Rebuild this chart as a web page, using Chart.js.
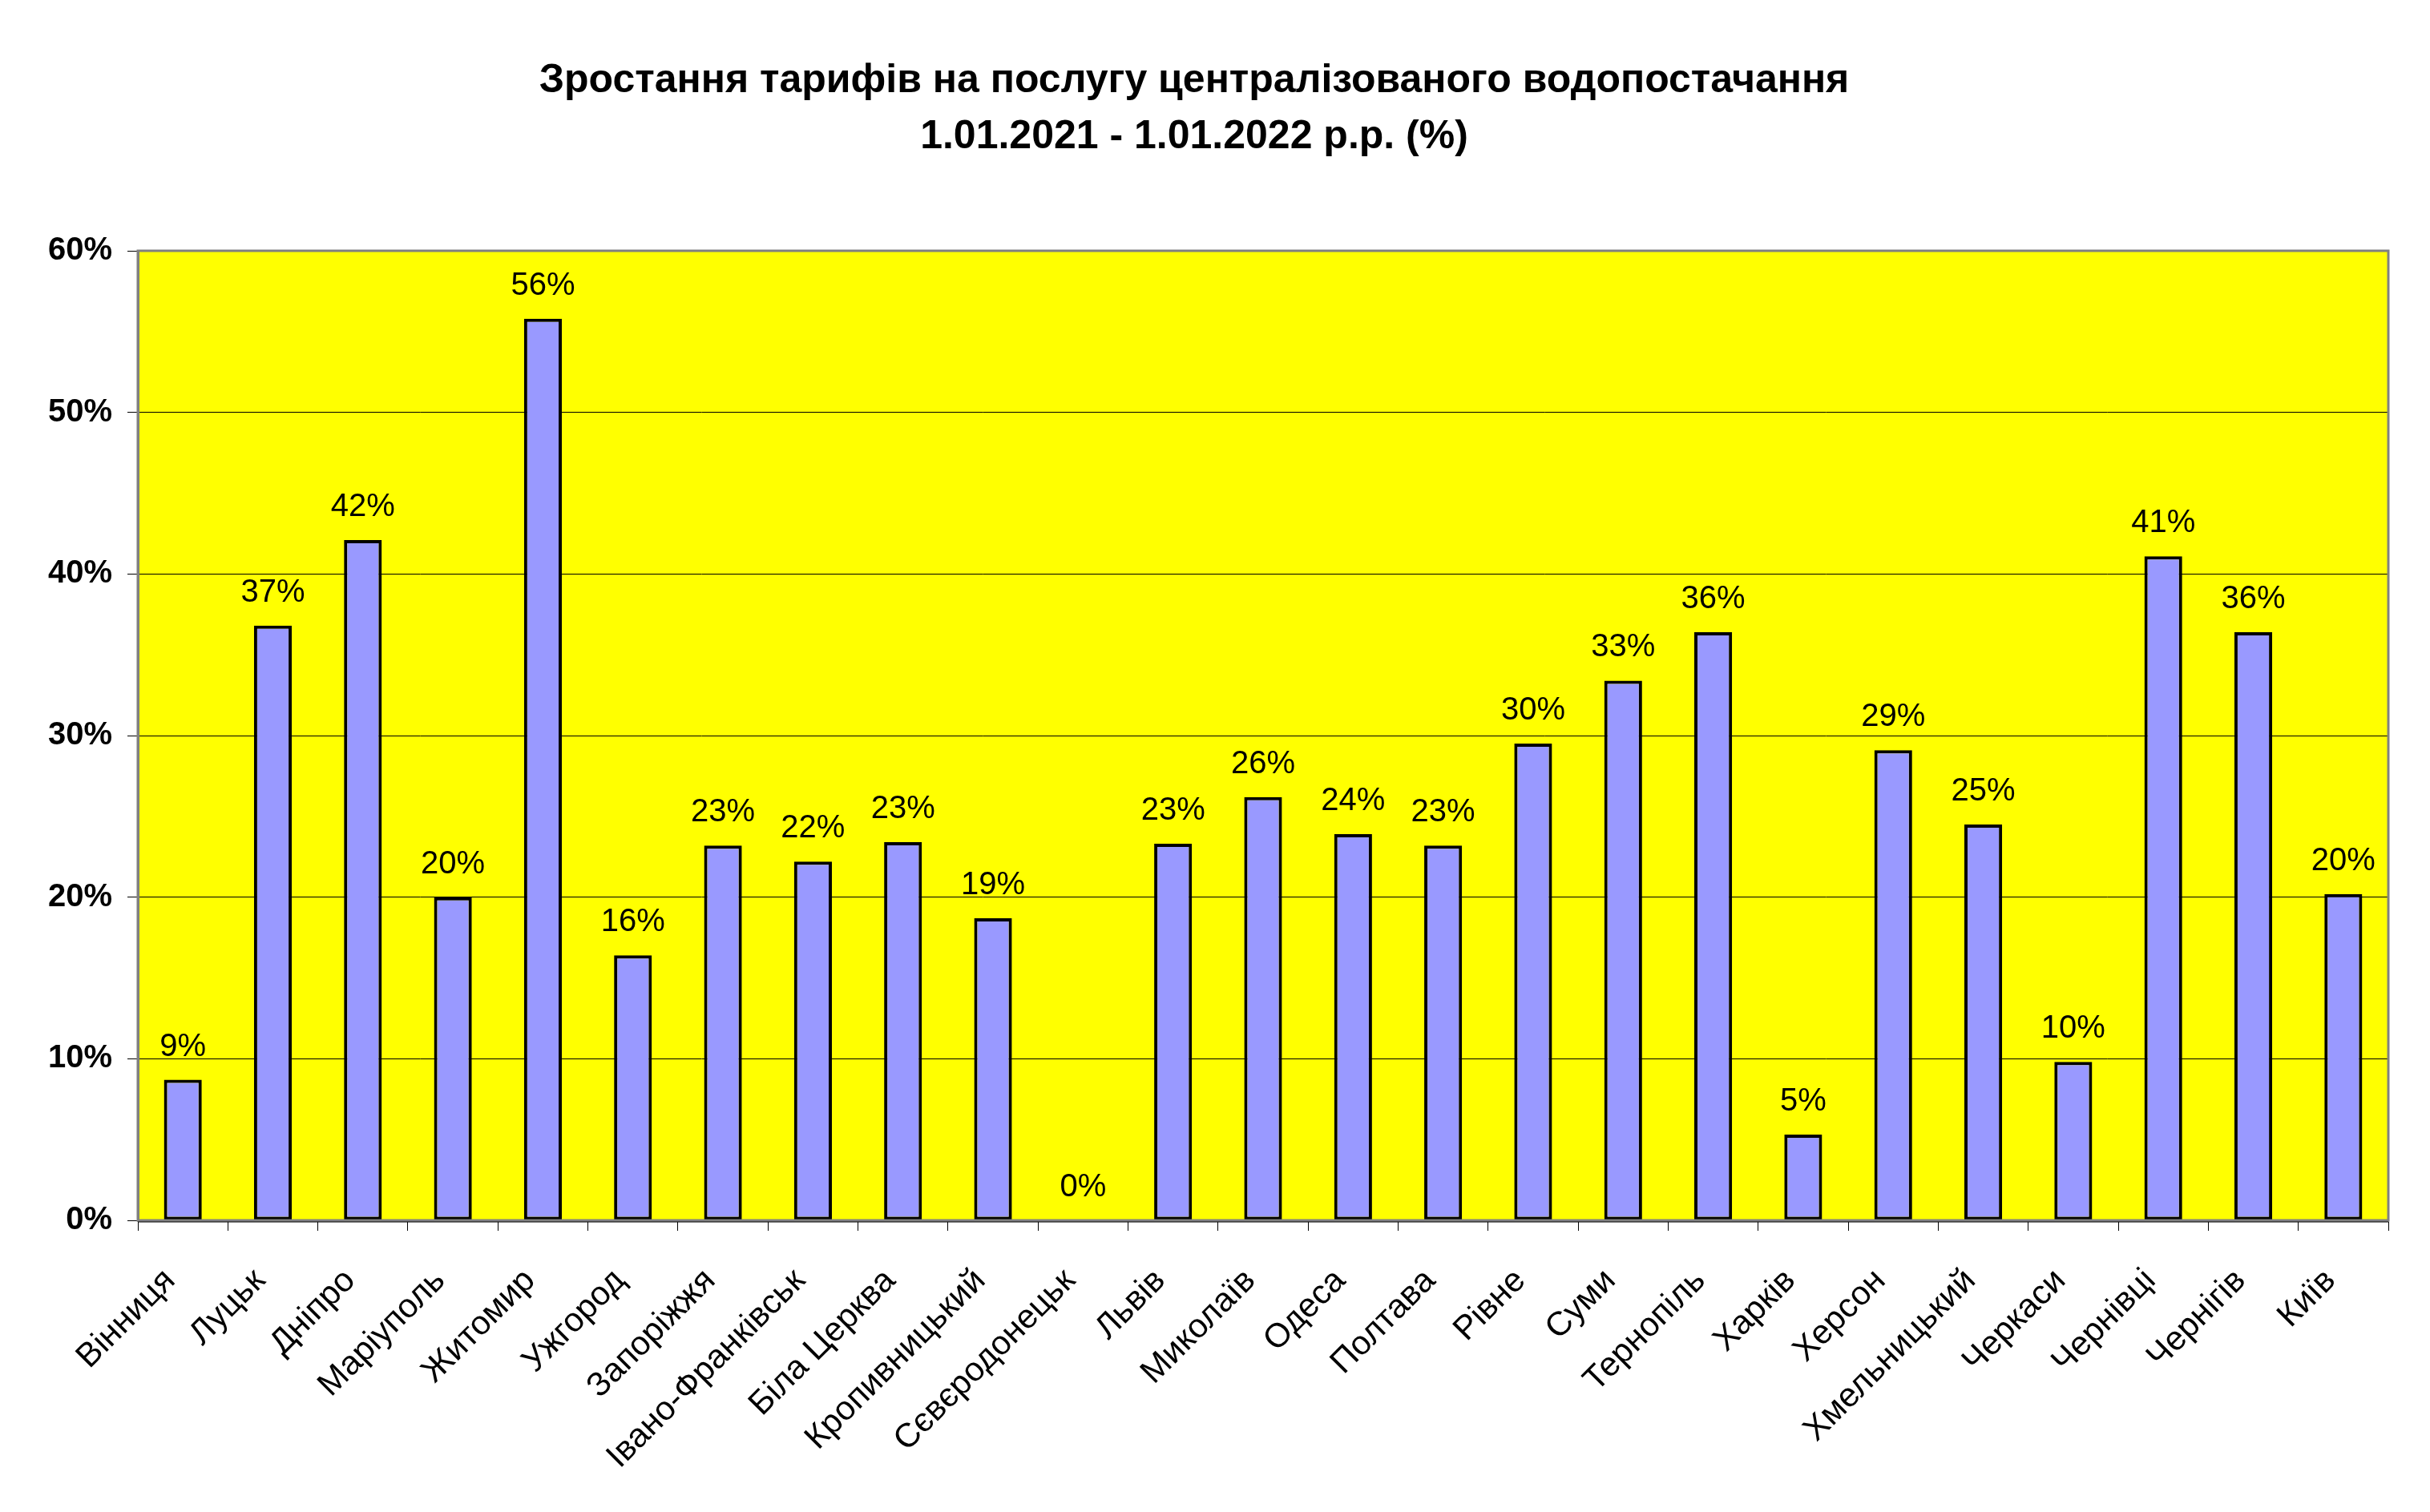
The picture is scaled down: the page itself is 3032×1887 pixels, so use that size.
<!DOCTYPE html>
<html>
<head>
    <meta charset="utf-8">
    <title>Зростання тарифів на водопостачання</title>
    <script src="https://cdn.jsdelivr.net/npm/chart.js"></script>
    <style>
        html, body {
            margin: 0;
            padding: 0;
            background: #ffffff;
        }
        .chart-container {
            width: 3032px;
            height: 1887px;
        }
    </style>
</head>
<body>
<div class="chart-container">
    <canvas id="tariff_chart"></canvas>
</div>

<script>
// Data (per cent growth)
const cities = ['Вінниця', 'Луцьк', 'Дніпро', 'Маріуполь', 'Житомир', 'Ужгород', 'Запоріжжя',
    'Івано-Франківськ', 'Біла Церква', 'Кропивницький', 'Сєвєродонецьк', 'Львів', 'Миколаїв',
    'Одеса', 'Полтава', 'Рівне', 'Суми', 'Тернопіль', 'Харків', 'Херсон', 'Хмельницький',
    'Черкаси', 'Чернівці', 'Чернігів', 'Київ'];
const growth = [8.7, 36.8, 42.1, 20.0, 55.8, 16.4, 23.2, 22.2, 23.4, 18.7, 0, 23.3, 26.2,
    23.9, 23.2, 29.5, 33.4, 36.4, 5.3, 29.1, 24.5, 9.8, 41.1, 36.4, 20.2];
const yTicks = [0, 10, 20, 30, 40, 50, 60];
const titleLines = ['Зростання тарифів на послугу централізованого водопостачання',
    '1.01.2021 - 1.01.2022 р.р. (%)'];

const plotArea = {
    id: 'plotArea',
    beforeDraw(chart) {
        const a = chart.chartArea;
        const ctx = chart.ctx;
        ctx.save();
        ctx.fillStyle = '#ffff00';
        ctx.fillRect(a.left, a.top, a.right - a.left, a.bottom - a.top);
        ctx.restore();
    },
    afterDraw(chart) {
        const a = chart.chartArea;
        const ctx = chart.ctx;
        ctx.save();
        ctx.strokeStyle = '#808080';
        ctx.lineWidth = 3;
        ctx.strokeRect(a.left, a.top, a.right - a.left, a.bottom - a.top);
        ctx.strokeStyle = '#000000';
        ctx.lineWidth = 1;
        ctx.beginPath();
        ctx.moveTo(a.left, a.bottom + 2);
        ctx.lineTo(a.right, a.bottom + 2);
        ctx.stroke();
        ctx.restore();
    }
};

const valueLabels = {
    id: 'valueLabels',
    afterDatasetsDraw(chart) {
        const ctx = chart.ctx;
        const meta = chart.getDatasetMeta(0);
        ctx.save();
        ctx.font = '40px "Liberation Sans", Arial, sans-serif';
        ctx.fillStyle = '#000000';
        ctx.textAlign = 'center';
        ctx.textBaseline = 'alphabetic';
        meta.data.forEach((bar, i) => {
            ctx.fillText(Math.round(growth[i]) + '%', bar.x, bar.y - 30);
        });
        ctx.restore();
    }
};

const ctx = document.getElementById('tariff_chart').getContext('2d');
new Chart(ctx, {
    type: 'bar',
    data: {
        labels: cities,
        datasets: [{
            data: growth,
            backgroundColor: '#9999ff',
            borderColor: '#000000',
            borderWidth: 4,
            borderSkipped: false,
            categoryPercentage: 1,
            barPercentage: 0.42
        }]
    },
    options: {
        responsive: true,
        maintainAspectRatio: false,
        animation: false,
        layout: {
            padding: { left: 0, right: 52, top: 0, bottom: 0 }
        },
        scales: {
            x: {
                grid: {
                    offset: true,
                    drawOnChartArea: false,
                    color: '#000000',
                    lineWidth: 1,
                    tickLength: 13
                },
                border: { color: '#808080', width: 3 },
                ticks: {
                    color: '#000000',
                    minRotation: 45,
                    maxRotation: 45,
                    autoSkip: false,
                    padding: 38,
                    labelOffset: -16,
                    font: { family: '"Liberation Sans", Arial, sans-serif', size: 42 }
                },
                afterFit(scale) { scale.height = 364; }
            },
            y: {
                min: 0,
                max: 60,
                afterBuildTicks(scale) {
                    scale.ticks = yTicks.map(v => ({ value: v }));
                },
                grid: {
                    color: '#000000',
                    lineWidth: 1,
                    tickLength: 13
                },
                border: { color: '#808080', width: 3 },
                ticks: {
                    color: '#000000',
                    padding: 19,
                    callback: v => v + '%',
                    font: { family: '"Liberation Sans", Arial, sans-serif', size: 40, weight: 'bold' }
                },
                afterFit(scale) { scale.width = 172; }
            }
        },
        plugins: {
            legend: { display: false },
            tooltip: { enabled: false },
            title: {
                display: true,
                text: titleLines,
                color: '#000000',
                font: { family: '"Liberation Sans", Arial, sans-serif', size: 50, weight: 'bold', lineHeight: 1.4 },
                padding: { top: 66, bottom: 107 }
            }
        }
    },
    plugins: [plotArea, valueLabels]
});
</script>
</body>
</html>
